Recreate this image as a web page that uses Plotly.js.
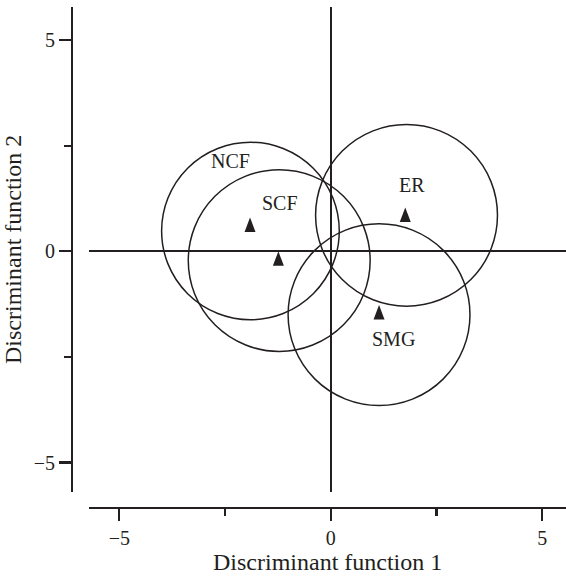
<!DOCTYPE html>
<html>
<head>
<meta charset="utf-8">
<script src="https://cdn.plot.ly/plotly-3.0.1.min.js"></script>
<style>html,body{margin:0;padding:0;background:#fff;}#chart{width:566px;height:576px;}</style>
</head>
<body>
<div id="chart"></div>
<script>
// Groups
const groups = ["NCF", "SCF", "ER", "SMG"];
// Group means (triangles)
const meanX = [-1.91, -1.24, 1.76, 1.14];
const meanY = [0.62, -0.18, 0.86, -1.45];
// Circle centres and radii
const circleX = [-1.90, -1.22, 1.79, 1.14];
const circleY = [0.48, -0.22, 0.85, -1.50];
const circleR = [2.10, 2.15, 2.15, 2.15];
// Label positions
const labelX = [-2.38, -1.20, 1.91, 1.48];
const labelY = [2.14, 1.14, 1.57, -2.08];
// Axis ticks
const tickVals = [-5, 0, 5];
const tickText = ["\u22125", "0", "5"];

const ink = "#231f20";
const font = "Liberation Serif, Times New Roman, serif";

const shapes = [];
groups.forEach((g, i) => {
  shapes.push({
    type: "circle", xref: "x", yref: "y",
    x0: circleX[i] - circleR[i], x1: circleX[i] + circleR[i],
    y0: circleY[i] - circleR[i], y1: circleY[i] + circleR[i],
    line: {color: ink, width: 1.5}, fillcolor: "rgba(0,0,0,0)", layer: "above"
  });
  shapes.push({
    type: "path", xref: "x", yref: "y",
    xsizemode: "pixel", ysizemode: "pixel",
    xanchor: meanX[i], yanchor: meanY[i],
    path: "M-5.5,-7 L5.5,-7 L0,7.5 Z",
    fillcolor: ink, line: {width: 0}, layer: "above"
  });
});

const annotations = groups.map((g, i) => ({
  x: labelX[i], y: labelY[i], xref: "x", yref: "y",
  text: g, showarrow: false,
  font: {family: font, size: 20, color: ink}
}));

const data = [{
  x: meanX, y: meanY, type: "scatter", mode: "markers",
  marker: {opacity: 0}, hoverinfo: "x+y", text: groups, showlegend: false
}];

const axisCommon = {
  showgrid: false, zeroline: true, zerolinecolor: ink, zerolinewidth: 2.2,
  showline: true, linecolor: ink, linewidth: 2.2,
  ticks: "outside", ticklen: 12, tickwidth: 2.2, tickcolor: ink,
  tickvals: tickVals, ticktext: tickText,
  tickfont: {family: font, size: 20, color: ink},
  minor: {ticks: "outside", ticklen: 7, tickwidth: 2.2, tickcolor: ink, tickvals: [-2.5, 2.5]},
  anchor: "free", position: 0, automargin: false
};

const layout = {
  width: 566, height: 576,
  margin: {l: 72, r: 0, t: 7, b: 68},
  paper_bgcolor: "#fff", plot_bgcolor: "#fff",
  showlegend: false,
  xaxis: Object.assign({}, axisCommon, {
    range: [-5.71, 5.56], domain: [0.035, 1],
    title: {text: "Discriminant function 1", font: {family: font, size: 24, color: ink}, standoff: 3}
  }),
  yaxis: Object.assign({}, axisCommon, {
    range: [-5.69, 5.78], domain: [0.0325, 1],
    title: {text: "Discriminant function 2", font: {family: font, size: 24, color: ink}, standoff: 6}
  }),
  shapes: shapes,
  annotations: annotations
};

Plotly.newPlot("chart", data, layout, {displayModeBar: false, staticPlot: true});
</script>
</body>
</html>
